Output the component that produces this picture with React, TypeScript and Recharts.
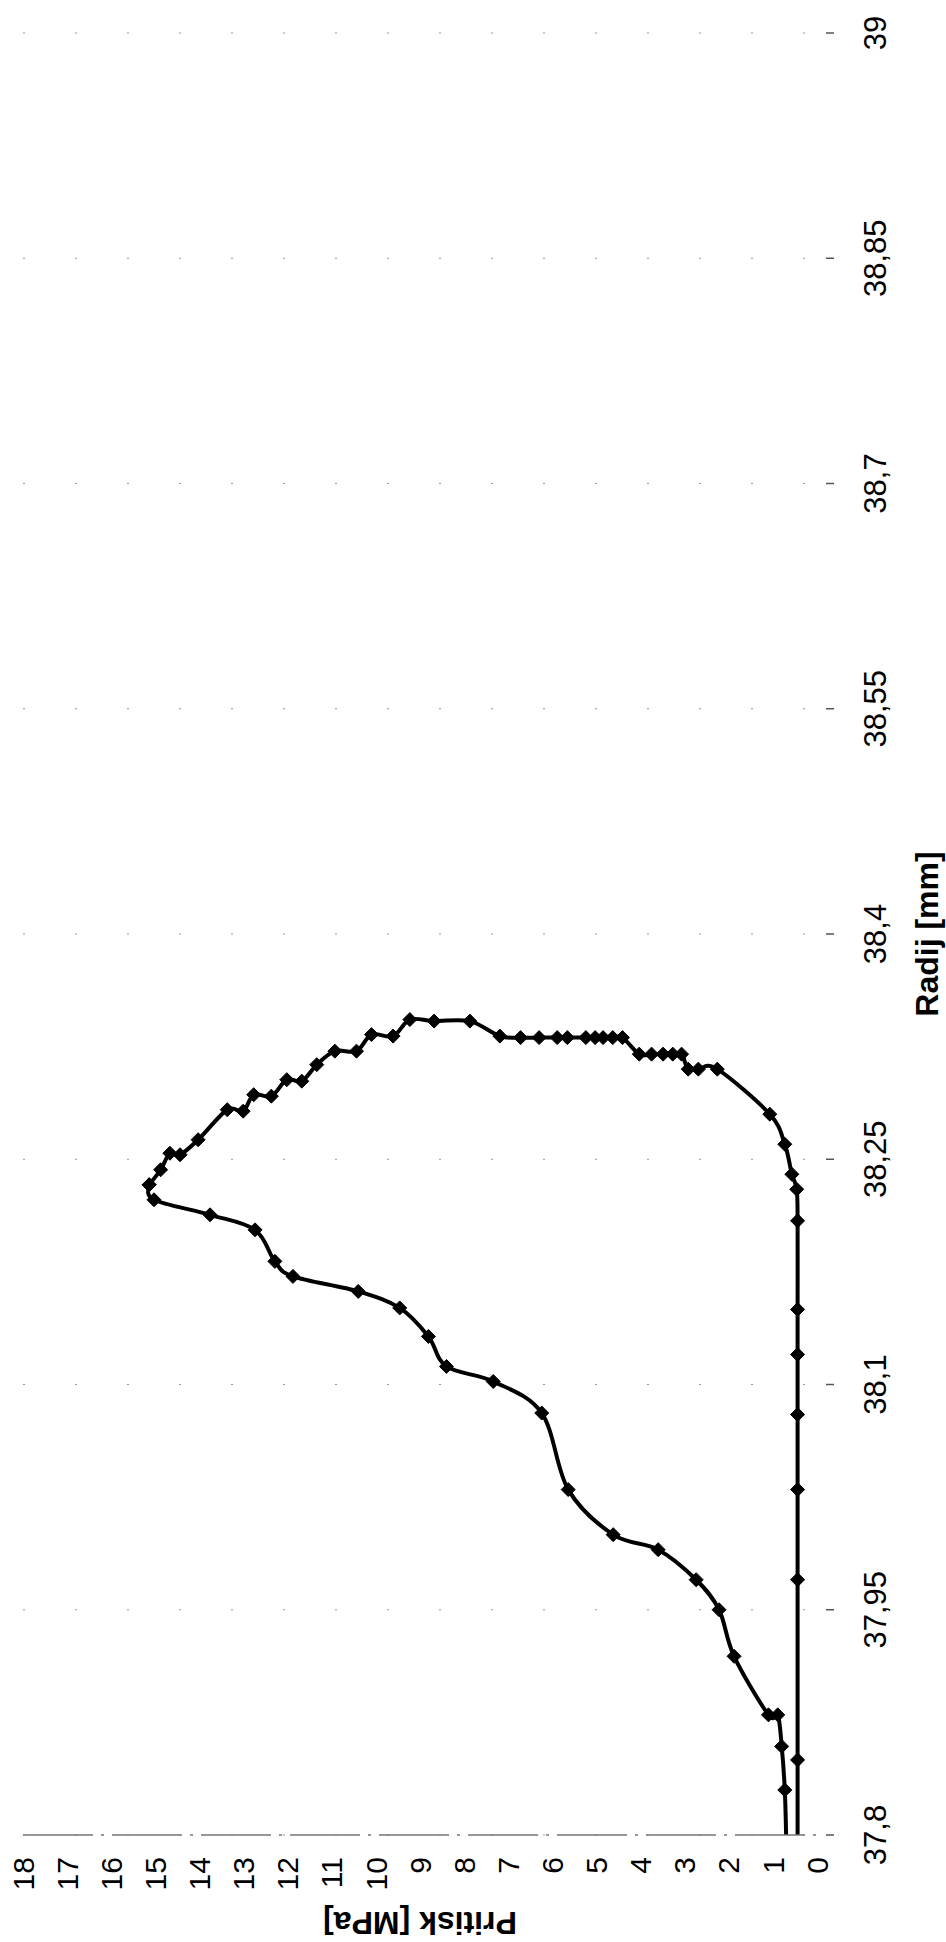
import { LineChart, Line, XAxis, YAxis, CartesianGrid } from 'recharts'

// The original page is scanned sideways: build a landscape chart and rotate it
const CHART_W = 1942
const CHART_H = 946

const RADIUS_TICKS = [37.8, 37.95, 38.1, 38.25, 38.4, 38.55, 38.7, 38.85, 39]
const PRESSURE_TICKS = [0, 1, 2, 3, 4, 5, 6, 7, 8, 9, 10, 11, 12, 13, 14, 15, 16, 17, 18]

// loading branch, 37.8 up to the peak
const loadRadius = [
  37.8, 37.83, 37.859, 37.88, 37.88, 37.919, 37.95, 37.97, 37.99, 38.0, 38.03, 38.081,
  38.102, 38.112, 38.132, 38.151, 38.162, 38.172, 38.182, 38.203, 38.213, 38.223, 38.233,
]
const loadPressure = [
  0.7, 0.73, 0.8, 0.89, 1.1, 1.88, 2.22, 2.74, 3.6, 4.62, 5.64, 6.24,
  7.34, 8.4, 8.81, 9.46, 10.4, 11.88, 12.29, 12.74, 13.76, 15.03, 15.14,
]

// unloading branch, from the peak back down and along the bottom to 37.8
const unloadRadius = [
  38.233, 38.243, 38.254, 38.253, 38.263, 38.283, 38.282, 38.293, 38.292, 38.303, 38.302,
  38.313, 38.322, 38.322, 38.333, 38.332, 38.343, 38.342, 38.342, 38.332,
  38.331, 38.331, 38.331, 38.331, 38.331, 38.331, 38.331, 38.331, 38.331,
  38.32, 38.32, 38.32, 38.32, 38.32, 38.31, 38.31, 38.31,
  38.28, 38.26, 38.24, 38.23, 38.209, 38.15, 38.12, 38.08, 38.03, 37.97, 37.85, 37.8,
]
const unloadPressure = [
  15.14, 14.88, 14.67, 14.44, 14.03, 13.37, 13.01, 12.77, 12.37, 12.02, 11.68,
  11.34, 10.93, 10.44, 10.1, 9.61, 9.23, 8.68, 7.87, 7.19,
  6.72, 6.3, 5.89, 5.66, 5.24, 5.03, 4.85, 4.63, 4.41,
  4.03, 3.75, 3.49, 3.27, 3.07, 2.92, 2.69, 2.26,
  1.07, 0.73, 0.57, 0.46, 0.44, 0.44, 0.44, 0.44, 0.44, 0.44, 0.44, 0.44,
]

const loadData = loadRadius.map((r, i) => ({ r, p: loadPressure[i] }))
const unloadData = unloadRadius.map((r, i) => ({ r, p: unloadPressure[i] }))

const FONT = '"Liberation Sans", Arial, sans-serif'
const fmt = (v: number) => String(v).replace('.', ',')

// Excel style smoothed line (Catmull-Rom through every point, keeps data order)
const smoothCurve: any = (ctx: any) => {
  let pts: number[][] = []
  return {
    areaStart() {},
    areaEnd() {},
    lineStart() {
      pts = []
    },
    point(x: number, y: number) {
      pts.push([x, y])
    },
    lineEnd() {
      if (!pts.length) return
      ctx.moveTo(pts[0][0], pts[0][1])
      for (let i = 0; i < pts.length - 1; i++) {
        const p0 = pts[Math.max(i - 1, 0)]
        const p1 = pts[i]
        const p2 = pts[i + 1]
        const p3 = pts[Math.min(i + 2, pts.length - 1)]
        ctx.bezierCurveTo(
          p1[0] + (p2[0] - p0[0]) / 6,
          p1[1] + (p2[1] - p0[1]) / 6,
          p2[0] - (p3[0] - p1[0]) / 6,
          p2[1] - (p3[1] - p1[1]) / 6,
          p2[0],
          p2[1]
        )
      }
    },
  }
}

const Diamond = (props: any) => {
  const { cx, cy, payload, index } = props
  if (payload.r <= RADIUS_TICKS[0] || cx == null) return <g key={`d-${index}`} />
  const s = 7
  return (
    <polygon
      key={`d-${index}`}
      points={`${cx},${cy - s} ${cx + s},${cy} ${cx},${cy + s} ${cx - s},${cy}`}
      fill="#000"
      stroke="#000"
      strokeWidth={1}
    />
  )
}

const RadiusTick = ({ x, y, payload }: any) => (
  <g>
    <line x1={x} x2={x} y1={y + 9} y2={y + 17} stroke="#555" strokeWidth={1.5} />
    <text x={x} y={y + 58} textAnchor="middle" dominantBaseline="central" fontSize={31} fill="#000" fontFamily={FONT}>
      {fmt(payload.value)}
    </text>
  </g>
)

export default function App() {
  return (
    <div style={{ position: 'absolute', left: 0, top: 0, width: 946, height: 1942, overflow: 'hidden', background: '#fff', fontFamily: FONT }}>
      <div
        style={{
          width: CHART_W,
          height: CHART_H,
          transformOrigin: '0 0',
          transform: `translate(0px, ${CHART_W}px) rotate(-90deg)`,
        }}
      >
        <LineChart width={CHART_W} height={CHART_H} margin={{ top: 23, right: 33, bottom: 0, left: 0 }}>
          <CartesianGrid horizontal={false} stroke="#999" strokeDasharray="2 50" />
          <XAxis
            type="number"
            dataKey="r"
            domain={[37.8, 39]}
            ticks={RADIUS_TICKS}
            interval={0}
            height={129}
            axisLine={false}
            tickLine={false}
            tickSize={0}
            tickMargin={0}
            tick={<RadiusTick />}
            label={() => (
              <text x={1008} y={927} textAnchor="middle" dominantBaseline="central" fontSize={32} fontWeight="bold" fill="#000" fontFamily={FONT}>
                Radij [mm]
              </text>
            )}
          />
          <YAxis
            type="number"
            domain={[0, 18]}
            ticks={PRESSURE_TICKS}
            interval={0}
            width={107}
            tickLine={false}
            tickSize={0}
            tickMargin={22}
            axisLine={{ stroke: '#777', strokeWidth: 1.5, strokeDasharray: '70 8 3 8' }}
            tick={{ fontSize: 30, fill: '#000', fontFamily: FONT }}
            label={() => (
              <text
                x={19}
                y={420}
                transform="rotate(-90 19 420)"
                textAnchor="middle"
                dominantBaseline="central"
                fontSize={32}
                fontWeight="bold"
                fill="#000"
                fontFamily={FONT}
              >
                Pritisk [MPa]
              </text>
            )}
          />
          <Line
            data={loadData}
            dataKey="p"
            type={smoothCurve}
            stroke="#000"
            strokeWidth={4}
            dot={Diamond}
            activeDot={false}
            isAnimationActive={false}
          />
          <Line
            data={unloadData}
            dataKey="p"
            type={smoothCurve}
            stroke="#000"
            strokeWidth={4}
            dot={Diamond}
            activeDot={false}
            isAnimationActive={false}
          />
        </LineChart>
      </div>
    </div>
  )
}
